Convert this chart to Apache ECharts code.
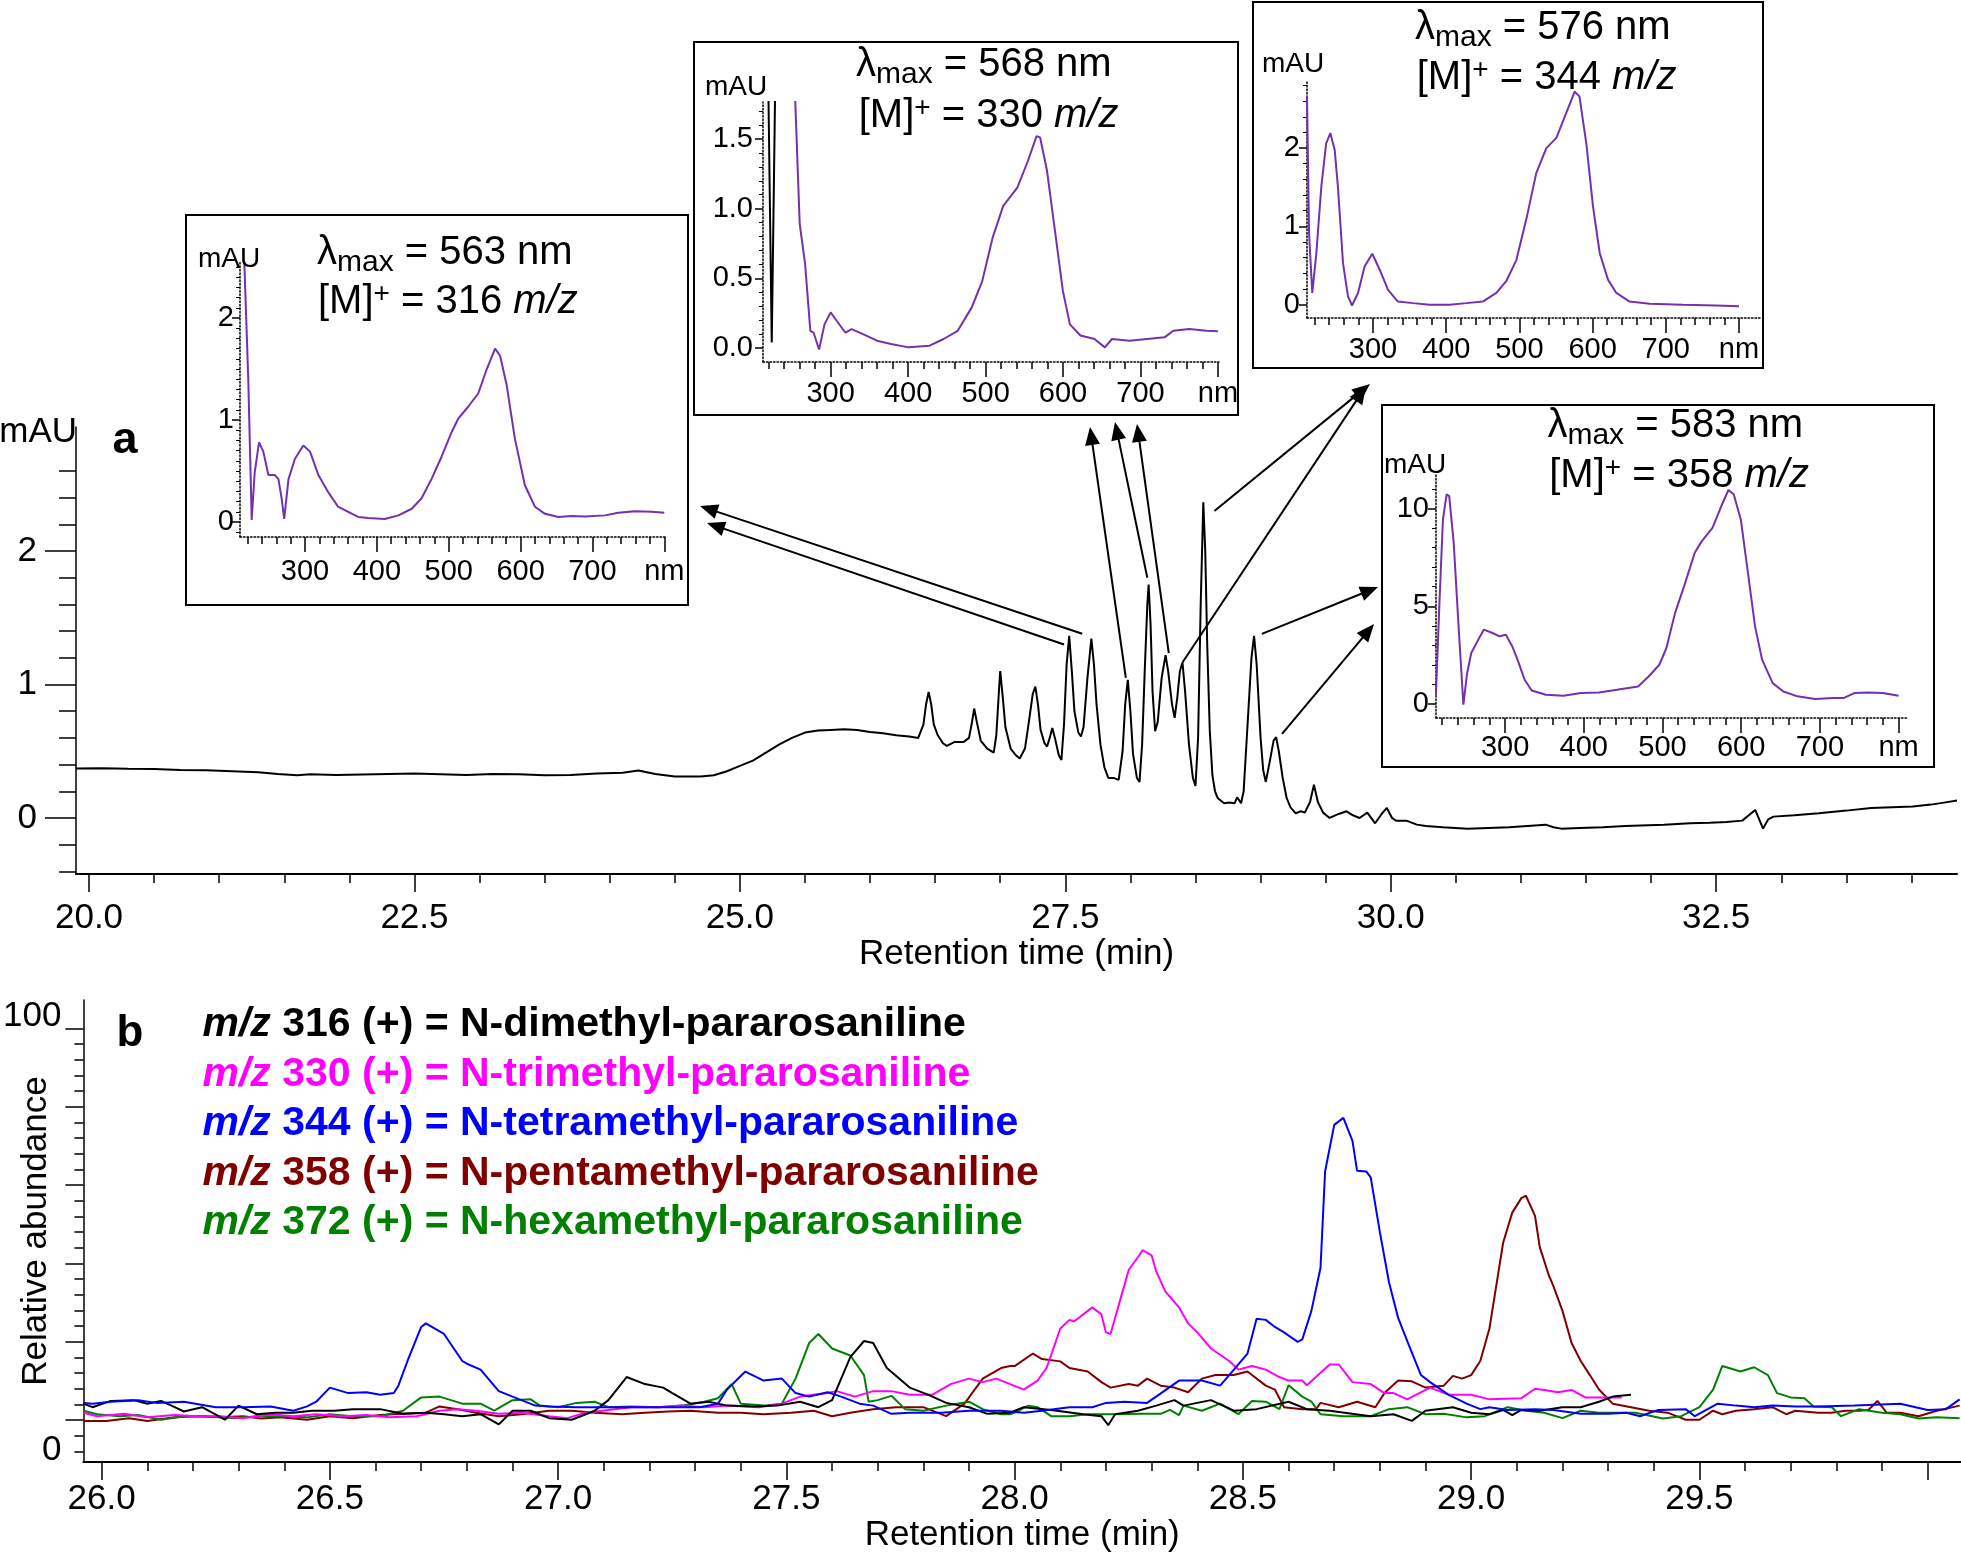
<!DOCTYPE html>
<html><head><meta charset="utf-8">
<script src="https://cdn.jsdelivr.net/npm/echarts@6/dist/echarts.min.js"></script>
<style>html,body{margin:0;padding:0;background:#fff}#c{width:1961px;height:1557px}</style>
</head><body><div id="c"></div>
<script>
const FONT = '"Liberation Sans", Arial, Helvetica, sans-serif';

// ================= DATA =================
// (a) UV chromatogram: [retention time (min), mAU]
const ticTrace = [[19.9,0.37],[20.1,0.372],[20.3,0.368],[20.5,0.366],[20.7,0.36],[20.9,0.357],[21.1,0.35],[21.3,0.343],[21.45,0.33],[21.6,0.32],[21.7,0.328],[21.9,0.322],[22.1,0.326],[22.3,0.33],[22.5,0.334],[22.7,0.328],[22.9,0.322],[23.1,0.33],[23.3,0.327],[23.5,0.32],[23.7,0.322],[23.9,0.333],[24.1,0.338],[24.22,0.355],[24.35,0.33],[24.5,0.31],[24.7,0.31],[24.8,0.32],[24.9,0.35],[25.0,0.39],[25.1,0.43],[25.2,0.49],[25.3,0.55],[25.4,0.6],[25.5,0.64],[25.6,0.655],[25.7,0.66],[25.8,0.665],[25.9,0.66],[26.0,0.645],[26.1,0.635],[26.2,0.62],[26.3,0.61],[26.37,0.60],[26.41,0.70],[26.43,0.85],[26.45,0.945],[26.47,0.85],[26.49,0.70],[26.52,0.62],[26.56,0.56],[26.59,0.54],[26.62,0.555],[26.65,0.57],[26.72,0.57],[26.76,0.60],[26.78,0.70],[26.80,0.82],[26.82,0.72],[26.85,0.58],[26.90,0.52],[26.95,0.49],[26.97,0.62],[26.99,0.95],[27.00,1.10],[27.02,0.90],[27.04,0.68],[27.08,0.52],[27.12,0.47],[27.15,0.445],[27.19,0.52],[27.22,0.72],[27.25,0.93],[27.27,0.985],[27.29,0.85],[27.31,0.66],[27.34,0.56],[27.36,0.535],[27.38,0.60],[27.40,0.675],[27.42,0.60],[27.45,0.47],[27.47,0.435],[27.49,0.70],[27.51,1.15],[27.53,1.365],[27.55,1.10],[27.57,0.80],[27.60,0.64],[27.62,0.61],[27.64,0.68],[27.67,1.05],[27.70,1.345],[27.72,1.15],[27.74,0.85],[27.77,0.55],[27.80,0.38],[27.83,0.30],[27.87,0.30],[27.91,0.285],[27.94,0.50],[27.96,0.85],[27.98,1.035],[28.00,0.80],[28.02,0.48],[28.05,0.30],[28.07,0.27],[28.09,0.55],[28.11,1.10],[28.13,1.60],[28.14,1.75],[28.155,1.45],[28.17,0.95],[28.19,0.65],[28.21,0.72],[28.24,1.05],[28.27,1.22],[28.29,1.10],[28.32,0.85],[28.34,0.75],[28.36,0.90],[28.38,1.10],[28.40,1.165],[28.42,0.95],[28.45,0.55],[28.48,0.30],[28.50,0.24],[28.52,0.60],[28.54,1.60],[28.56,2.365],[28.575,2.0],[28.59,1.30],[28.61,0.65],[28.63,0.32],[28.65,0.20],[28.67,0.15],[28.72,0.11],[28.76,0.115],[28.80,0.11],[28.82,0.155],[28.85,0.11],[28.87,0.20],[28.90,0.70],[28.93,1.20],[28.95,1.365],[28.97,1.15],[29.00,0.60],[29.02,0.36],[29.04,0.27],[29.07,0.42],[29.10,0.58],[29.12,0.605],[29.14,0.50],[29.17,0.30],[29.20,0.15],[29.23,0.08],[29.27,0.035],[29.31,0.05],[29.34,0.04],[29.38,0.12],[29.41,0.25],[29.44,0.12],[29.48,0.04],[29.53,0.0],[29.60,0.03],[29.66,0.05],[29.71,0.02],[29.76,0.0],[29.82,0.04],[29.88,-0.04],[29.93,0.03],[29.97,0.075],[30.01,0.0],[30.04,-0.02],[30.12,-0.02],[30.2,-0.05],[30.27,-0.06],[30.4,-0.07],[30.59,-0.08],[30.75,-0.075],[30.91,-0.07],[31.05,-0.06],[31.19,-0.05],[31.25,-0.07],[31.31,-0.08],[31.45,-0.075],[31.63,-0.07],[31.8,-0.06],[32.1,-0.05],[32.3,-0.04],[32.45,-0.035],[32.58,-0.03],[32.7,-0.02],[32.8,0.06],[32.86,-0.08],[32.9,-0.01],[32.94,0.01],[33.1,0.02],[33.29,0.035],[33.5,0.055],[33.69,0.075],[33.85,0.08],[34.01,0.085],[34.15,0.1],[34.25,0.115],[34.35,0.13]];

// (b) extracted ion chromatograms: [retention time (min), relative abundance]
const mz316 = [[25.96,4.2],[25.98,3.3],[26.02,4.9],[26.07,5.1],[26.10,4.2],[26.13,4.9],[26.16,3.3],[26.18,2.2],[26.22,3.3],[26.27,0.1],[26.30,3.7],[26.34,1.5],[26.38,1.9],[26.42,1.9],[26.46,2.4],[26.51,2.4],[26.55,2.8],[26.61,2.8],[26.66,1.6],[26.71,1.9],[26.75,1.5],[26.79,1.0],[26.83,1.5],[26.87,-1.1],[26.90,2.4],[26.94,2.4],[26.98,0.5],[27.03,0.1],[27.08,2.4],[27.11,5.1],[27.15,11.0],[27.19,9.2],[27.23,8.3],[27.25,6.9],[27.29,4.2],[27.33,4.7],[27.37,3.7],[27.43,3.5],[27.48,3.7],[27.53,4.7],[27.57,3.3],[27.60,5.1],[27.64,16.1],[27.67,20.2],[27.69,19.7],[27.72,13.3],[27.77,8.3],[27.81,6.5],[27.85,4.4],[27.90,3.3],[27.94,1.6],[27.99,1.9],[28.02,3.3],[28.08,2.6],[28.15,1.5],[28.19,1.0],[28.205,-1.3],[28.22,1.5],[28.27,2.4],[28.31,3.7],[28.35,5.1],[28.37,3.7],[28.43,5.1],[28.48,2.4],[28.53,2.8],[28.60,4.7],[28.64,2.8],[28.69,2.4],[28.78,1.0],[28.83,1.5],[28.87,-0.2],[28.90,2.4],[28.96,3.3],[29.00,1.9],[29.04,1.5],[29.07,2.6],[29.09,1.3],[29.11,2.6],[29.15,2.4],[29.20,3.3],[29.24,3.3],[29.28,4.7],[29.31,6.0],[29.35,6.5]];
const mz330 = [[25.96,1.9],[25.99,1.0],[26.05,1.6],[26.10,0.7],[26.16,1.3],[26.21,1.0],[26.26,1.0],[26.31,0.5],[26.37,1.5],[26.42,1.0],[26.47,1.5],[26.53,1.0],[26.58,1.3],[26.63,0.7],[26.69,1.0],[26.74,2.4],[26.78,2.8],[26.82,2.4],[26.87,1.6],[26.92,1.9],[26.98,1.0],[27.02,0.5],[27.06,1.9],[27.11,2.6],[27.16,3.3],[27.22,3.3],[27.27,3.7],[27.32,3.3],[27.37,3.7],[27.44,3.3],[27.49,4.2],[27.53,6.0],[27.59,6.9],[27.61,7.4],[27.65,6.0],[27.69,7.4],[27.73,7.4],[27.77,6.5],[27.82,6.5],[27.86,9.2],[27.90,10.6],[27.93,9.7],[27.96,10.6],[27.99,9.2],[28.02,7.8],[28.05,10.1],[28.07,13.3],[28.10,23.4],[28.12,25.6],[28.13,25.2],[28.17,28.8],[28.19,27.0],[28.20,22.4],[28.21,22.0],[28.23,30.2],[28.25,38.4],[28.27,41.6],[28.28,43.4],[28.30,42.1],[28.31,38.0],[28.33,32.9],[28.36,28.8],[28.38,24.7],[28.40,22.4],[28.43,18.3],[28.47,15.1],[28.49,12.9],[28.52,13.8],[28.55,12.9],[28.58,11.0],[28.60,10.1],[28.63,10.1],[28.64,8.9],[28.66,11.0],[28.69,14.2],[28.71,14.2],[28.74,9.7],[28.78,9.2],[28.81,6.9],[28.83,6.9],[28.86,5.3],[28.88,6.5],[28.91,8.3],[28.95,6.5],[29.00,6.5],[29.04,5.3],[29.11,5.6],[29.14,8.0],[29.16,7.7],[29.19,7.1],[29.22,7.7],[29.25,5.8],[29.28,5.8],[29.33,5.8]];
const mz344 = [[25.96,4.4],[25.98,4.2],[26.02,4.7],[26.08,5.1],[26.12,4.4],[26.18,4.7],[26.25,3.3],[26.31,3.3],[26.37,3.5],[26.42,2.4],[26.45,3.5],[26.47,4.7],[26.50,8.3],[26.54,6.9],[26.58,7.1],[26.61,6.5],[26.64,6.9],[26.65,8.8],[26.67,15.1],[26.70,23.8],[26.71,24.7],[26.75,22.0],[26.79,15.1],[26.80,14.4],[26.83,12.9],[26.87,7.4],[26.90,6.0],[26.95,3.7],[26.98,3.5],[27.04,3.3],[27.11,3.3],[27.18,3.3],[27.24,3.3],[27.31,3.3],[27.35,4.2],[27.37,7.8],[27.41,12.4],[27.45,10.1],[27.49,10.6],[27.52,6.9],[27.55,6.0],[27.59,7.1],[27.62,6.0],[27.66,4.2],[27.69,3.7],[27.73,1.6],[27.77,1.9],[27.84,1.9],[27.90,2.4],[27.94,2.4],[27.97,2.4],[28.02,1.9],[28.06,2.4],[28.12,3.3],[28.17,3.3],[28.20,4.4],[28.24,4.7],[28.29,4.4],[28.31,6.0],[28.36,10.1],[28.41,10.1],[28.45,8.8],[28.47,11.5],[28.51,17.0],[28.53,25.9],[28.55,25.6],[28.57,23.8],[28.59,22.4],[28.62,20.0],[28.63,20.6],[28.65,27.9],[28.67,38.9],[28.68,63.5],[28.70,75.4],[28.72,77.2],[28.74,71.3],[28.75,63.7],[28.77,63.5],[28.78,62.0],[28.80,48.0],[28.82,35.2],[28.84,26.1],[28.86,20.2],[28.89,11.5],[28.91,9.7],[28.95,6.5],[28.99,4.2],[29.02,2.8],[29.04,3.3],[29.08,2.6],[29.14,2.8],[29.18,2.6],[29.24,1.6],[29.30,1.6],[29.34,1.9],[29.37,1.0],[29.41,2.6],[29.47,2.8],[29.49,1.0],[29.54,4.2],[29.58,3.7],[29.62,3.3],[29.66,3.7],[29.71,3.5],[29.76,3.5],[29.84,3.7],[29.94,4.2],[30.00,2.6],[30.04,2.8],[30.07,5.3]];
const mz358 = [[25.96,-0.2],[26.01,-0.2],[26.06,0.5],[26.10,-0.2],[26.16,0.7],[26.21,1.0],[26.26,0.7],[26.31,1.0],[26.35,0.4],[26.39,0.7],[26.45,0.1],[26.50,1.0],[26.55,0.5],[26.61,1.3],[26.66,1.6],[26.71,1.9],[26.74,3.5],[26.78,2.8],[26.82,1.9],[26.87,1.0],[26.92,1.5],[26.98,2.4],[27.03,2.4],[27.08,1.9],[27.14,1.5],[27.19,1.9],[27.24,2.2],[27.29,2.4],[27.35,1.9],[27.40,1.9],[27.45,1.5],[27.51,1.9],[27.56,2.4],[27.60,1.0],[27.64,1.9],[27.69,2.8],[27.74,3.3],[27.80,3.3],[27.85,1.0],[27.89,4.2],[27.93,10.6],[27.97,13.3],[27.99,13.8],[28.00,13.8],[28.04,17.0],[28.06,15.6],[28.10,15.0],[28.12,13.3],[28.16,12.4],[28.19,9.7],[28.21,8.3],[28.25,9.2],[28.27,8.8],[28.29,10.6],[28.32,8.8],[28.35,8.3],[28.38,7.1],[28.41,10.6],[28.44,11.5],[28.48,11.5],[28.51,12.4],[28.55,8.8],[28.57,7.8],[28.59,3.3],[28.63,2.8],[28.66,2.8],[28.67,4.4],[28.71,3.3],[28.75,4.7],[28.79,3.3],[28.81,6.9],[28.84,10.1],[28.87,9.9],[28.90,8.3],[28.94,8.8],[28.96,11.3],[28.98,10.6],[29.00,11.5],[29.02,15.1],[29.04,23.4],[29.06,38.0],[29.07,45.3],[29.09,53.0],[29.11,56.7],[29.12,57.3],[29.14,52.1],[29.15,44.3],[29.17,37.0],[29.18,34.3],[29.20,27.9],[29.22,19.7],[29.24,15.1],[29.26,11.5],[29.28,7.8],[29.31,4.2],[29.35,3.3],[29.39,2.4],[29.43,1.9],[29.45,1.0],[29.47,0.1],[29.50,0.1],[29.53,2.4],[29.55,1.5],[29.58,2.4],[29.62,2.8],[29.66,3.3],[29.69,1.5],[29.71,2.4],[29.76,1.9],[29.79,1.9],[29.82,2.4],[29.85,2.4],[29.87,2.6],[29.89,4.9],[29.91,1.9],[29.94,1.9],[29.98,1.0],[30.02,2.4],[30.07,3.7]];
const mz372 = [[25.96,2.4],[25.99,1.5],[26.04,1.0],[26.08,1.3],[26.13,0.1],[26.18,1.0],[26.23,1.0],[26.29,0.5],[26.34,1.0],[26.39,1.0],[26.45,0.7],[26.50,1.5],[26.55,1.0],[26.61,1.0],[26.66,2.4],[26.70,5.8],[26.74,6.0],[26.79,4.2],[26.83,4.2],[26.86,2.4],[26.90,5.1],[26.94,5.3],[26.96,3.7],[27.00,3.3],[27.04,4.4],[27.08,4.7],[27.11,3.3],[27.16,3.5],[27.22,3.3],[27.27,3.7],[27.32,4.7],[27.35,5.6],[27.38,9.2],[27.40,4.2],[27.45,3.7],[27.49,4.2],[27.52,10.6],[27.55,19.7],[27.57,22.0],[27.60,18.3],[27.64,16.5],[27.67,11.5],[27.68,4.7],[27.70,5.1],[27.73,6.2],[27.76,2.8],[27.80,2.4],[27.85,3.7],[27.90,4.7],[27.93,2.8],[27.97,1.5],[27.99,1.5],[28.00,1.9],[28.03,3.7],[28.05,3.3],[28.08,1.0],[28.12,1.0],[28.16,1.5],[28.21,1.5],[28.28,1.6],[28.32,1.6],[28.34,2.6],[28.36,1.3],[28.37,3.7],[28.41,2.4],[28.45,4.2],[28.49,1.5],[28.52,4.9],[28.55,4.7],[28.58,2.8],[28.60,8.9],[28.63,6.0],[28.65,4.7],[28.67,1.5],[28.72,1.0],[28.78,1.0],[28.82,2.8],[28.86,3.3],[28.90,1.5],[28.94,1.6],[28.99,0.7],[29.03,1.0],[29.08,3.3],[29.12,2.4],[29.16,1.9],[29.20,0.5],[29.24,2.4],[29.28,1.9],[29.31,1.9],[29.36,1.9],[29.42,0.4],[29.46,1.0],[29.50,3.3],[29.53,7.8],[29.55,13.8],[29.59,12.4],[29.62,13.5],[29.65,11.5],[29.67,6.9],[29.70,5.8],[29.73,5.6],[29.75,3.5],[29.79,3.3],[29.81,1.0],[29.85,2.8],[29.90,1.9],[29.94,1.5],[29.98,0.4],[30.02,0.7],[30.07,0.5]];

// UV-Vis spectra of the inset peaks: [wavelength (nm), mAU]
const uv316 = [[213,2.7],[215.5,2.55],[221,1.4],[225.8,0.02],[230,0.49],[236,0.78],[242,0.69],[249,0.46],[258,0.46],[263,0.42],[267.5,0.23],[271,0.03],[277,0.42],[286,0.62],[297.7,0.75],[307,0.69],[318.6,0.46],[332.5,0.29],[346,0.15],[360,0.10],[374,0.05],[388,0.04],[411,0.03],[430,0.065],[448.5,0.13],[462,0.23],[476,0.42],[490,0.64],[504,0.88],[513,1.01],[527,1.13],[541,1.26],[553,1.50],[564.5,1.70],[571.5,1.63],[580.7,1.34],[592,0.82],[606,0.36],[620,0.15],[634,0.08],[652.6,0.05],[671,0.06],[690,0.055],[717.6,0.065],[736,0.09],[759,0.105],[782.6,0.10],[800,0.09]];
const uv330 = [[253.4,1.9],[260,0.89],[267,0.60],[273.7,0.124],[278,0.11],[285,-0.01],[292,0.17],[300,0.256],[307.7,0.196],[319,0.11],[327,0.136],[341.7,0.10],[359.8,0.053],[378,0.029],[400.5,0.005],[427.7,0.017],[445.8,0.065],[464,0.124],[482,0.29],[495.7,0.48],[509,0.79],[522.8,1.02],[541,1.15],[554.5,1.34],[565.8,1.52],[570.4,1.51],[579.4,1.27],[590.8,0.79],[599.8,0.41],[608.9,0.17],[622.5,0.09],[640.6,0.065],[654,0.005],[663.2,0.065],[685.8,0.053],[708.5,0.065],[731,0.077],[742.5,0.124],[762.9,0.136],[785.5,0.124],[800,0.12]];
const uv330Black = [[219.4,1.9],[223.9,0.04],[228.4,1.9]];
const uv344 = [[209.8,2.66],[212.6,0.91],[217,0.15],[222.6,0.66],[229.4,1.51],[236,2.06],[241.7,2.19],[247.6,1.98],[252,1.51],[259,0.53],[265.8,0.106],[271.3,-0.01],[279.5,0.15],[288.6,0.49],[299,0.65],[309,0.45],[320.5,0.19],[334,0.04],[354.6,0.02],[377.4,0.0],[404.7,0.0],[427.5,0.02],[450,0.04],[468.5,0.15],[482,0.30],[495.8,0.57],[509.4,1.09],[523,1.68],[536.8,2.0],[550.5,2.13],[564,2.45],[575.5,2.72],[582,2.66],[591.4,2.06],[600.5,1.26],[609.7,0.66],[621,0.32],[632.4,0.15],[650.6,0.04],[678,0.013],[723.5,0.0],[769,-0.01],[800,-0.02]];
const uv358 = [[212,0.38],[216.7,5.3],[221,9.45],[225.7,10.74],[229,10.65],[234.7,8.25],[241.4,3.63],[247,-0.05],[251.8,1.58],[257,2.6],[266,3.29],[273,3.8],[284,3.63],[293,3.46],[301,3.54],[309,2.95],[315.8,2.26],[324.8,1.23],[333.8,0.68],[351.8,0.46],[374,0.41],[396.8,0.55],[419.4,0.58],[442,0.72],[469,0.89],[482.4,1.4],[496,2.0],[505,2.86],[516,4.66],[527.5,6.03],[541,7.74],[550,8.34],[563.5,9.02],[574.8,10.14],[583.8,10.96],[590.5,10.74],[599.5,9.45],[608.6,6.71],[617.6,3.97],[626.6,2.26],[640,1.06],[653.6,0.63],[671.6,0.38],[694,0.24],[716.7,0.29],[730,0.29],[743.7,0.55],[761.7,0.58],[779.7,0.55],[800,0.41]];

// tick labels
const mainXLabels = [20, 22.5, 25, 27.5, 30, 32.5];
const mainYLabels = [0, 1, 2];
const msXLabels = [26, 26.5, 27, 27.5, 28, 28.5, 29, 29.5];
const msXMajorTicks = [26, 26.5, 27, 27.5, 28, 28.5, 29, 29.5, 30];
const msYMajorTicks = [0, 20, 40, 60, 80, 100];
const msYLabels = [0, 100];
const uvXLabels = [300, 400, 500, 600, 700, 800];
const insetYLabels = [[0, 1, 2], [0, 0.5, 1, 1.5], [0, 1, 2], [0, 5, 10]];

// legend / annotation texts
const ionNames = ['m/z 316 (+) = N-dimethyl-pararosaniline', 'm/z 330 (+) = N-trimethyl-pararosaniline', 'm/z 344 (+) = N-tetramethyl-pararosaniline', 'm/z 358 (+) = N-pentamethyl-pararosaniline', 'm/z 372 (+) = N-hexamethyl-pararosaniline'];
const ionColors = ['#000000', '#ff00ff', '#0000ff', '#800000', '#008000'];
const lambdaMax = ['563', '568', '576', '583'];
const molIon = ['316', '330', '344', '358'];

// ================= LAYOUT =================
const PURPLE = '#7232ae';
function seq(a, b, s) { const o = []; const n = Math.round((b - a) / s); for (let i = 0; i <= n; i++) o.push(+(a + i * s).toFixed(6)); return o; }
function notMult(arr, m) { return arr.filter(v => Math.abs(v / m - Math.round(v / m)) > 1e-6); }

const grids = [
  { left: 76, top: 427, width: 1881, height: 447 },   // (a)
  { left: 80, top: 1000, width: 1881, height: 462 },  // (b)
  { left: 240, top: 262, width: 425, height: 275 },   // inset 316
  { left: 763, top: 102, width: 456, height: 260 },   // inset 330
  { left: 1307, top: 82, width: 453, height: 236 },   // inset 344
  { left: 1436, top: 475, width: 471, height: 243 }   // inset 358
];
const insetX = [[209.5, 801], [212.6, 801.4], [209.8, 828.7], [212.2, 810.7]];
const insetY = [[-0.147, 2.549], [-0.10, 1.765], [-0.17, 2.844], [-0.73, 11.73]];
const insetYMinor = [seq(-0.1, 2.5, 0.1), seq(0, 1.7, 0.1), seq(0, 2.8, 0.2), seq(0, 11, 1)];
const insetYMargin = [6, 10, 7, 7];
const insetXMargin = [20, 17, 17, 15];
const insetBoxes = [[186, 215, 502, 390], [694, 42, 544, 373], [1253, 2, 510, 366], [1382, 405, 552, 362]];
const insetTitlePos = [[317, 252.5, 318, 302], [856, 64.5, 858.7, 116.2], [1415, 27.5, 1416.7, 78.3], [1547.4, 425.8, 1549.2, 476.3]];
const insetMAUPos = [[198, 259], [705, 87], [1262, 64], [1384, 465]];

const txt = (size, extra) => Object.assign({ fontSize: size, color: '#000', fontFamily: FONT }, extra || {});
const noSplit = { show: false };

const xAxes = [], yAxes = [];
// (a) axes
xAxes.push({ gridIndex: 0, type: 'value', position: 'bottom', min: 19.9, max: 34.35,
  axisLine: { show: true, onZero: false, lineStyle: { color: '#000', width: 2 } },
  axisTick: { show: true, customValues: mainXLabels, length: 18, lineStyle: { color: '#000', width: 1.5 } },
  axisLabel: Object.assign({ show: true, customValues: mainXLabels, formatter: v => v.toFixed(1), margin: 27 }, txt(35)),
  splitLine: noSplit, name: 'Retention time (min)', nameLocation: 'middle', nameGap: 62, nameTextStyle: txt(35) });
xAxes.push({ gridIndex: 0, type: 'value', position: 'bottom', min: 19.9, max: 34.35,
  axisLine: { show: false, onZero: false },
  axisTick: { show: true, customValues: notMult(seq(20, 34, 0.5), 2.5), length: 9, lineStyle: { color: '#000', width: 1.5 } },
  axisLabel: { show: false }, splitLine: noSplit });
yAxes.push({ gridIndex: 0, type: 'value', position: 'left', min: -0.42, max: 2.93,
  axisLine: { show: true, onZero: false, lineStyle: { color: '#000', width: 1.5 } },
  axisTick: { show: true, customValues: mainYLabels, length: 31, lineStyle: { color: '#000', width: 1.5 } },
  axisLabel: Object.assign({ show: true, customValues: mainYLabels, formatter: v => String(v), margin: 39 }, txt(35)),
  splitLine: noSplit });
yAxes.push({ gridIndex: 0, type: 'value', position: 'left', min: -0.42, max: 2.93,
  axisLine: { show: false, onZero: false },
  axisTick: { show: true, customValues: notMult(seq(-0.4, 2.6, 0.2), 1), length: 17, lineStyle: { color: '#000', width: 1.5 } },
  axisLabel: { show: false }, splitLine: noSplit });
// (b) axes
xAxes.push({ gridIndex: 1, type: 'value', position: 'bottom', min: 25.96, max: 30.073,
  axisLine: { show: true, onZero: false, lineStyle: { color: '#000', width: 2 } },
  axisTick: { show: true, customValues: msXMajorTicks, length: 18, lineStyle: { color: '#000', width: 1.5 } },
  axisLabel: Object.assign({ show: true, customValues: msXLabels, formatter: v => v.toFixed(1), margin: 20 }, txt(35)),
  splitLine: noSplit, name: 'Retention time (min)', nameLocation: 'middle', nameGap: 53, nameTextStyle: txt(35) });
xAxes.push({ gridIndex: 1, type: 'value', position: 'bottom', min: 25.96, max: 30.073,
  axisLine: { show: false, onZero: false },
  axisTick: { show: true, customValues: notMult(seq(26, 30, 0.1), 0.5), length: 9, lineStyle: { color: '#000', width: 1.5 } },
  axisLabel: { show: false }, splitLine: noSplit });
yAxes.push({ gridIndex: 1, type: 'value', position: 'left', min: -10.7, max: 107.3,
  axisLine: { show: true, onZero: false, lineStyle: { color: '#000', width: 1.5 } },
  axisTick: { show: true, customValues: msYMajorTicks, length: 18, lineStyle: { color: '#000', width: 1.5 } },
  axisLabel: { show: false }, splitLine: noSplit,
  name: 'Relative abundance', nameLocation: 'middle', nameGap: 30, nameTextStyle: txt(35) });
yAxes.push({ gridIndex: 1, type: 'value', position: 'left', min: -10.7, max: 107.3,
  axisLine: { show: false, onZero: false },
  axisTick: { show: true, customValues: notMult(seq(-8, 96, 4), 20), length: 9, lineStyle: { color: '#000', width: 1.5 } },
  axisLabel: { show: false }, splitLine: noSplit });
yAxes.push({ gridIndex: 1, type: 'value', position: 'left', min: -2.77, max: 103.85,
  axisLine: { show: false, onZero: false }, axisTick: { show: false },
  axisLabel: Object.assign({ show: true, customValues: msYLabels, formatter: v => String(v), margin: 22 }, txt(35)),
  splitLine: noSplit });
// inset axes
for (let i = 0; i < 4; i++) {
  const g = i + 2;
  const dotted = { color: '#000', width: 1.5, type: [1.5, 2] };
  xAxes.push({ gridIndex: g, type: 'value', position: 'bottom', min: insetX[i][0], max: insetX[i][1],
    axisLine: { show: true, onZero: false, lineStyle: dotted },
    axisTick: { show: true, customValues: uvXLabels, length: 15, lineStyle: { color: '#000', width: 1.5 } },
    axisLabel: Object.assign({ show: true, customValues: uvXLabels, formatter: v => (v === 800 ? 'nm' : String(v)), margin: insetXMargin[i] }, txt(29)),
    splitLine: noSplit });
  xAxes.push({ gridIndex: g, type: 'value', position: 'bottom', min: insetX[i][0], max: insetX[i][1],
    axisLine: { show: false, onZero: false },
    axisTick: { show: true, customValues: notMult(seq(220, 800, 20), 100), length: 7, lineStyle: { color: '#000', width: 1.5 } },
    axisLabel: { show: false }, splitLine: noSplit });
  yAxes.push({ gridIndex: g, type: 'value', position: 'left', min: insetY[i][0], max: insetY[i][1],
    axisLine: { show: true, onZero: false, lineStyle: dotted },
    axisTick: { show: true, customValues: insetYLabels[i], length: 8, lineStyle: { color: '#000', width: 1.5 } },
    axisLabel: Object.assign({ show: true, customValues: insetYLabels[i], formatter: v => (i === 1 ? v.toFixed(1) : String(v)), margin: insetYMargin[i] }, txt(29)),
    splitLine: noSplit });
  yAxes.push({ gridIndex: g, type: 'value', position: 'left', min: insetY[i][0], max: insetY[i][1],
    axisLine: { show: false, onZero: false },
    axisTick: { show: true, customValues: insetYMinor[i].filter(v => insetYLabels[i].indexOf(v) < 0), length: 4, lineStyle: { color: '#000', width: 1 } },
    axisLabel: { show: false }, splitLine: noSplit });
}

function lineSeries(data, xi, yi, color, width) {
  return { type: 'line', data: data, xAxisIndex: xi, yAxisIndex: yi, showSymbol: false, symbol: 'none',
    lineStyle: { color: color, width: width }, clip: true, animation: false, silent: true };
}
const series = [
  lineSeries(ticTrace, 0, 0, '#000', 2),
  lineSeries(mz358, 2, 2, ionColors[3], 2),
  lineSeries(mz372, 2, 2, ionColors[4], 2),
  lineSeries(mz330, 2, 2, ionColors[1], 2),
  lineSeries(mz316, 2, 2, ionColors[0], 2),
  lineSeries(mz344, 2, 2, ionColors[2], 2),
  lineSeries(uv316, 4, 5, PURPLE, 2),
  lineSeries(uv330Black, 6, 7, '#000', 2),
  lineSeries(uv330, 6, 7, PURPLE, 2),
  lineSeries(uv344, 8, 9, PURPLE, 2),
  lineSeries(uv358, 10, 11, PURPLE, 2)
];

const chart = echarts.init(document.getElementById('c'), null, { renderer: 'canvas', width: 1961, height: 1557 });
chart.setOption({ animation: false, backgroundColor: '#fff', grid: grids, xAxis: xAxes, yAxis: yAxes, series: series });

// ================= ANNOTATIONS =================
const mctx = document.createElement('canvas').getContext('2d');
function tw(s, size, weight, style) { mctx.font = (style || 'normal') + ' ' + (weight || 'normal') + ' ' + size + 'px ' + FONT; return mctx.measureText(s).width; }
function run(x, yc, segs, color) {
  const out = []; let cx = x;
  segs.forEach(s => {
    out.push({ type: 'text', x: cx, y: yc + (s.dy || 0), z: 100, silent: true,
      style: { text: s.t, fill: color || '#000', fontSize: s.size, fontFamily: FONT, fontWeight: s.weight || 'normal', fontStyle: s.style || 'normal', align: 'left', verticalAlign: 'middle' } });
    cx += tw(s.t, s.size, s.weight, s.style);
  });
  return out;
}
const G = [];
// inset boxes, titles, mAU
for (let i = 0; i < 4; i++) {
  const b = insetBoxes[i];
  G.push({ type: 'rect', z: 50, silent: true, shape: { x: b[0], y: b[1], width: b[2], height: b[3] }, style: { fill: 'none', stroke: '#000', lineWidth: 2 } });
  const p = insetTitlePos[i];
  G.push(...run(p[0], p[1], [{ t: 'λ', size: 40 }, { t: 'max', size: 30, dy: 10 }, { t: ' = ' + lambdaMax[i] + ' nm', size: 40 }]));
  G.push(...run(p[2], p[3], [{ t: '[M]', size: 40 }, { t: '+', size: 28, dy: -8 }, { t: ' = ' + molIon[i] + ' ', size: 40 }, { t: 'm/z', size: 40, style: 'italic' }]));
  const m = insetMAUPos[i];
  G.push({ type: 'text', x: m[0], y: m[1], z: 100, silent: true, style: { text: 'mAU', fill: '#000', fontSize: 28, fontFamily: FONT, align: 'left', verticalAlign: 'middle' } });
}
// main labels
G.push({ type: 'text', x: 77, y: 432, z: 100, silent: true, style: { text: 'mAU', fill: '#000', fontSize: 35, fontFamily: FONT, align: 'right', verticalAlign: 'middle' } });
G.push({ type: 'text', x: 125, y: 441, z: 100, silent: true, style: { text: 'a', fill: '#000', fontSize: 45, fontWeight: 'bold', fontFamily: FONT, align: 'center', verticalAlign: 'middle' } });
G.push({ type: 'text', x: 130, y: 1034, z: 100, silent: true, style: { text: 'b', fill: '#000', fontSize: 44, fontWeight: 'bold', fontFamily: FONT, align: 'center', verticalAlign: 'middle' } });
// ion legend
for (let i = 0; i < ionNames.length; i++) {
  const rest = ionNames[i].slice(3);
  G.push(...run(202.5, 1025 + 49.5 * i, [{ t: 'm/z', size: 41, weight: 'bold', style: 'italic' }, { t: rest, size: 41, weight: 'bold' }], ionColors[i]));
}
// arrows: from a point beside a chromatogram peak (data coords) to an inset box (pixel)
const arrowSpecs = [
  { from: [27.63, 1.38], to: [700, 506] },
  { from: [27.49, 1.30], to: [707, 523] },
  { from: [27.965, 1.05], to: [1090, 427] },
  { from: [28.13, 1.80], to: [1115, 422] },
  { from: [28.295, 1.235], to: [1137, 424] },
  { from: [28.645, 2.30], to: [1370, 384] },
  { from: [28.40, 1.165], to: [1366, 386] },
  { from: [29.01, 1.38], to: [1378, 587] },
  { from: [29.165, 0.63], to: [1374, 624] }
];
arrowSpecs.forEach(a => {
  const p = chart.convertToPixel({ seriesIndex: 0 }, a.from);
  const tx = a.to[0], ty = a.to[1];
  const dx = tx - p[0], dy = ty - p[1], L = Math.hypot(dx, dy), ux = dx / L, uy = dy / L;
  const hl = 18, hw = 7.5, bx = tx - ux * hl, by = ty - uy * hl;
  G.push({ type: 'line', z: 90, silent: true, shape: { x1: p[0], y1: p[1], x2: bx + ux * 2, y2: by + uy * 2 }, style: { stroke: '#000', lineWidth: 2 } });
  G.push({ type: 'polygon', z: 90, silent: true, shape: { points: [[tx, ty], [bx - uy * hw, by + ux * hw], [bx + uy * hw, by - ux * hw]] }, style: { fill: '#000' } });
});
chart.setOption({ graphic: G });
</script>
</body></html>
